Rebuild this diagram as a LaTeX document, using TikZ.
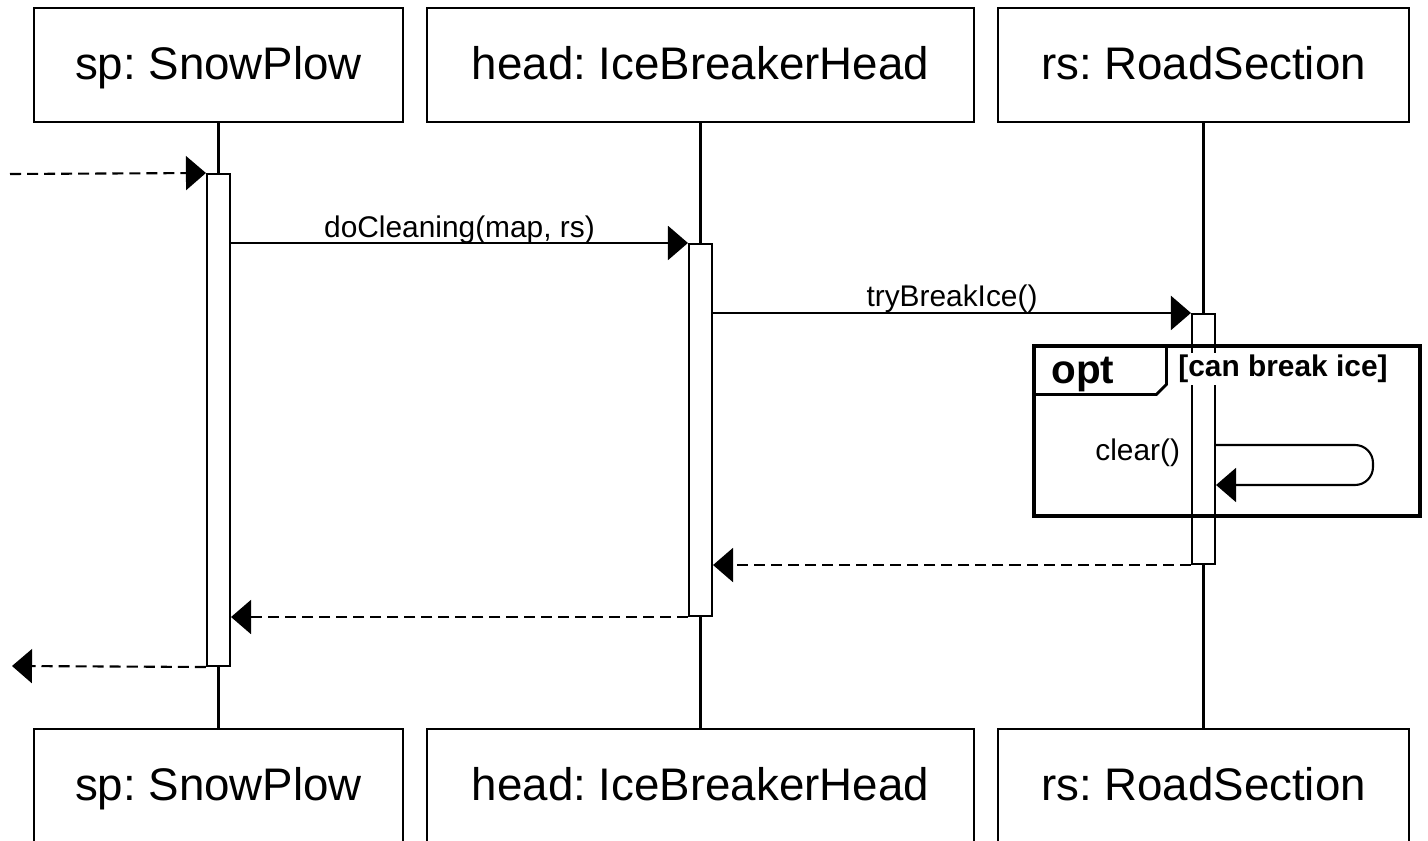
\documentclass[tikz,border=0pt]{standalone}
\usepackage{fontspec}
\setmainfont{Liberation Sans}
\usetikzlibrary{arrows.meta}
\begin{document}
\frenchspacing
\begin{tikzpicture}[x=0.02cm,y=-0.02cm,
  obj/.style={draw, line width=1.2pt, minimum height=2.28cm, font=\fontsize{26}{30}\selectfont, inner sep=0, text height=20pt, text depth=4pt},
  act/.style={draw, fill=white, line width=1.2pt, minimum width=0.46cm, inner sep=0},
  life/.style={line width=1.2pt},
  tip/.style={-{Triangle[length=0.4cm,width=0.68cm]}},
  msg/.style={line width=1.2pt, tip},
  ret/.style={line width=1.2pt, tip, dash pattern=on 6.3pt off 3.4pt},
  lbl/.style={font=\fontsize{17}{20}\selectfont, inner sep=0}
]
\clip (0,0) rectangle (1428,841);
% objects
\node[obj, minimum width=7.38cm] (spTop) at (218.5,65) {sp: SnowPlow};
\node[obj, minimum width=10.94cm] (headTop) at (700.5,65) {head: IceBreakerHead};
\node[obj, minimum width=8.22cm] (rsTop) at (1203.5,65) {rs: RoadSection};
\node[obj, minimum width=7.38cm] (spBot) at (218.5,786) {sp: SnowPlow};
\node[obj, minimum width=10.94cm] (headBot) at (700.5,786) {head: IceBreakerHead};
\node[obj, minimum width=8.22cm] (rsBot) at (1203.5,786) {rs: RoadSection};
% lifelines
\draw[life] (spTop.south) -- (spBot.north);
\draw[life] (headTop.south) -- (headBot.north);
\draw[life] (rsTop.south) -- (rsBot.north);
% activations
\node[act, minimum height=9.84cm] (spAct) at (218.5,420) {};
\node[act, minimum height=7.44cm] (headAct) at (700.5,430) {};
\node[act, minimum height=5cm] (rsAct) at (1203.5,439) {};
% messages
\coordinate (found) at (10,174);
\coordinate (lost) at (12,666);
\draw[ret] (found) -- (spAct.north west);
\draw[msg] (spAct.east |- headAct.north) -- node[lbl, midway, yshift=0.26cm] {doCleaning(map, rs)} (headAct.north west);
\draw[msg] (headAct.east |- rsAct.north) -- node[lbl, midway, yshift=0.28cm] {tryBreakIce()} (rsAct.north west);
\draw[ret] (rsAct.south west) -- (headAct.east |- rsAct.south);
\draw[ret] (headAct.south west) -- (spAct.east |- headAct.south);
\draw[ret] (spAct.south west) -- (lost);
% opt fragment
\node[draw, line width=1.8pt, minimum width=7.72cm, minimum height=3.4cm, inner sep=0] (optFrame) at (1227,431) {};
\draw[line width=1.6pt] (optFrame.north west) ++(0,50) -- ++(124,0) -- ++(10,-10) -- ++(0,-40);
\node[font=\bfseries\fontsize{23}{26}\selectfont, inner sep=0] (optLbl) at (1083,375) {opt};
\node[font=\bfseries\fontsize{17}{20}\selectfont, fill=white, inner sep=1pt] (guard) at (1283,369) {[can break ice]};
% self message
\draw[msg, rounded corners=0.36cm] (rsAct.east |- 0,445) node[lbl, anchor=east, xshift=-0.7cm, yshift=-0.16cm] {clear()} -- (1373,445) -- (1373,485) -- (rsAct.east |- 0,485);
\end{tikzpicture}
\end{document}
